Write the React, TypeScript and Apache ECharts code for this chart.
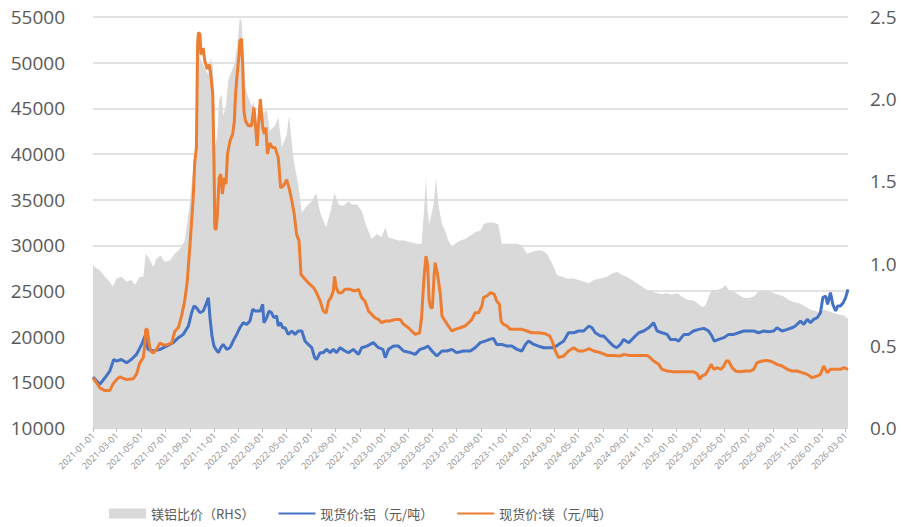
import React, { useEffect, useRef } from 'react';
import * as echarts from 'echarts';

const tickLabels = [
  '2021-01-01', '2021-03-01', '2021-05-01', '2021-07-01', '2021-09-01', '2021-11-01',
  '2022-01-01', '2022-03-01', '2022-05-01', '2022-07-01', '2022-09-01', '2022-11-01',
  '2023-01-01', '2023-03-01', '2023-05-01', '2023-07-01', '2023-09-01', '2023-11-01',
  '2024-01-01', '2024-03-01', '2024-05-01', '2024-07-01', '2024-09-01', '2024-11-01',
  '2025-01-01', '2025-03-01', '2025-05-01', '2025-07-01', '2025-09-01', '2025-11-01',
  '2026-01-01', '2026-03-01',
];
const lastDate = '2026-03-07';

const leftTicks = [10000, 15000, 20000, 25000, 30000, 35000, 40000, 45000, 50000, 55000];
const rightTicks = [0, 0.5, 1.0, 1.5, 2.0, 2.5];

const seriesNames = ['镁铝比价（RHS）', '现货价:铝（元/吨）', '现货价:镁（元/吨）'];

const ratioDates = [
  '2021-01-01', '2021-01-10', '2021-01-18', '2021-01-31', '2021-02-08', '2021-02-20', '2021-03-01', '2021-03-13',
  '2021-03-26', '2021-04-07', '2021-04-16', '2021-04-28', '2021-05-07', '2021-05-13', '2021-05-22', '2021-06-01',
  '2021-06-09', '2021-06-19', '2021-06-30', '2021-07-13', '2021-07-25', '2021-08-07', '2021-08-19', '2021-08-28',
  '2021-09-02', '2021-09-09', '2021-09-16', '2021-09-22', '2021-09-30', '2021-10-08', '2021-10-17', '2021-10-23',
  '2021-10-28', '2021-10-31', '2021-11-02', '2021-11-08', '2021-11-13', '2021-11-19', '2021-11-23', '2021-11-30',
  '2021-12-06', '2021-12-14', '2021-12-22', '2021-12-28', '2022-01-04', '2022-01-08', '2022-01-12', '2022-01-18',
  '2022-01-25', '2022-02-02', '2022-02-08', '2022-02-16', '2022-02-24', '2022-03-04', '2022-03-12', '2022-03-20',
  '2022-04-02', '2022-04-10', '2022-04-19', '2022-05-01', '2022-05-07', '2022-05-18', '2022-05-30', '2022-06-08',
  '2022-06-20', '2022-07-03', '2022-07-14', '2022-07-24', '2022-08-08', '2022-08-20', '2022-08-29', '2022-09-08',
  '2022-09-20', '2022-10-03', '2022-10-11', '2022-10-24', '2022-11-05', '2022-11-18', '2022-11-30', '2022-12-13',
  '2022-12-25', '2023-01-03', '2023-01-11', '2023-01-24', '2023-02-05', '2023-02-18', '2023-03-07', '2023-03-23',
  '2023-04-04', '2023-04-10', '2023-04-15', '2023-04-19', '2023-04-23', '2023-04-27', '2023-05-04', '2023-05-10',
  '2023-05-16', '2023-05-25', '2023-06-02', '2023-06-10', '2023-06-19', '2023-06-27', '2023-07-10', '2023-07-22',
  '2023-08-04', '2023-08-16', '2023-08-29', '2023-09-06', '2023-09-18', '2023-10-01', '2023-10-13', '2023-10-22',
  '2023-11-04', '2023-11-16', '2023-11-29', '2023-12-11', '2023-12-24', '2024-01-05', '2024-01-18', '2024-01-30',
  '2024-02-12', '2024-02-25', '2024-03-08', '2024-03-21', '2024-04-02', '2024-04-19', '2024-05-01', '2024-05-14',
  '2024-05-27', '2024-06-08', '2024-06-25', '2024-07-11', '2024-07-24', '2024-08-05', '2024-08-18', '2024-08-30',
  '2024-09-12', '2024-09-24', '2024-10-07', '2024-10-20', '2024-11-01', '2024-11-14', '2024-11-26', '2024-12-09',
  '2024-12-21', '2025-01-03', '2025-01-15', '2025-01-28', '2025-02-13', '2025-02-26', '2025-03-06', '2025-03-15',
  '2025-03-23', '2025-03-31', '2025-04-13', '2025-04-26', '2025-05-04', '2025-05-12', '2025-05-25', '2025-06-06',
  '2025-06-19', '2025-07-01', '2025-07-14', '2025-07-26', '2025-08-08', '2025-08-20', '2025-09-02', '2025-09-14',
  '2025-09-27', '2025-10-09', '2025-10-22', '2025-11-03', '2025-11-16', '2025-11-29', '2025-12-11', '2025-12-24',
  '2026-01-05', '2026-01-18', '2026-01-31', '2026-02-12', '2026-02-25', '2026-03-07',
];
const ratioValues = [
  0.99, 0.97, 0.96, 0.92, 0.90, 0.86, 0.91, 0.92,
  0.89, 0.90, 0.87, 0.92, 0.92, 1.06, 1.03, 0.98,
  1.03, 1.05, 1.01, 1.02, 1.06, 1.09, 1.14, 1.30,
  1.41, 1.58, 1.73, 2.28, 2.23, 2.19, 2.15, 2.25,
  2.20, 2.05, 1.70, 1.78, 2.00, 2.03, 1.90, 1.96,
  2.12, 2.17, 2.22, 2.32, 2.50, 2.47, 2.30, 2.07,
  2.01, 1.96, 1.98, 1.80, 2.02, 1.91, 1.94, 1.81,
  1.84, 1.89, 1.71, 1.78, 1.90, 1.64, 1.48, 1.31,
  1.35, 1.38, 1.43, 1.31, 1.22, 1.33, 1.43, 1.36,
  1.35, 1.38, 1.36, 1.36, 1.32, 1.22, 1.15, 1.18,
  1.16, 1.22, 1.16, 1.15, 1.14, 1.14, 1.13, 1.12,
  1.12, 1.32, 1.52, 1.32, 1.24, 1.28, 1.36, 1.52,
  1.36, 1.24, 1.20, 1.14, 1.10, 1.12, 1.14, 1.15,
  1.17, 1.19, 1.20, 1.24, 1.25, 1.25, 1.24, 1.12,
  1.12, 1.12, 1.12, 1.11, 1.06, 1.07, 1.08, 1.08,
  1.06, 1.00, 0.93, 0.92, 0.91, 0.91, 0.90, 0.89,
  0.88, 0.90, 0.91, 0.92, 0.94, 0.95, 0.93, 0.92,
  0.90, 0.88, 0.86, 0.84, 0.83, 0.82, 0.815, 0.82,
  0.81, 0.82, 0.80, 0.78, 0.775, 0.755, 0.735, 0.745,
  0.80, 0.84, 0.84, 0.85, 0.87, 0.84, 0.83, 0.81,
  0.79, 0.79, 0.80, 0.83, 0.84, 0.835, 0.82, 0.81,
  0.80, 0.78, 0.765, 0.76, 0.745, 0.725, 0.715, 0.705,
  0.72, 0.71, 0.70, 0.69, 0.685, 0.665,
];

const alDates = [
  '2021-01-01', '2021-01-10', '2021-01-18', '2021-01-31', '2021-02-12', '2021-02-22', '2021-03-01', '2021-03-13',
  '2021-03-26', '2021-04-07', '2021-04-20', '2021-05-03', '2021-05-11', '2021-05-19', '2021-06-01', '2021-06-18',
  '2021-07-04', '2021-07-21', '2021-08-03', '2021-08-15', '2021-08-28', '2021-09-05', '2021-09-11', '2021-09-17',
  '2021-09-26', '2021-10-04', '2021-10-11', '2021-10-17', '2021-10-21', '2021-10-26', '2021-10-31', '2021-11-05',
  '2021-11-11', '2021-11-17', '2021-11-23', '2021-12-02', '2021-12-10', '2021-12-18', '2021-12-27', '2022-01-04',
  '2022-01-12', '2022-01-21', '2022-01-29', '2022-02-05', '2022-02-11', '2022-02-19', '2022-02-24', '2022-03-02',
  '2022-03-05', '2022-03-12', '2022-03-18', '2022-03-24', '2022-03-30', '2022-04-06', '2022-04-10', '2022-04-16',
  '2022-04-21', '2022-04-27', '2022-05-05', '2022-05-14', '2022-05-22', '2022-05-30', '2022-06-08', '2022-06-16',
  '2022-06-24', '2022-07-03', '2022-07-10', '2022-07-15', '2022-07-24', '2022-08-01', '2022-08-09', '2022-08-18',
  '2022-08-26', '2022-09-03', '2022-09-12', '2022-09-24', '2022-10-03', '2022-10-15', '2022-10-28', '2022-11-05',
  '2022-11-18', '2022-12-04', '2022-12-17', '2022-12-28', '2023-01-03', '2023-01-11', '2023-01-24', '2023-02-05',
  '2023-02-18', '2023-03-07', '2023-03-19', '2023-03-31', '2023-04-13', '2023-04-20', '2023-04-30', '2023-05-12',
  '2023-05-25', '2023-06-06', '2023-06-19', '2023-07-01', '2023-07-18', '2023-08-04', '2023-08-16', '2023-08-29',
  '2023-09-10', '2023-09-21', '2023-10-01', '2023-10-09', '2023-10-22', '2023-11-04', '2023-11-16', '2023-11-29',
  '2023-12-11', '2023-12-20', '2023-12-28', '2024-01-10', '2024-01-22', '2024-02-04', '2024-02-16', '2024-02-29',
  '2024-03-12', '2024-03-25', '2024-04-06', '2024-04-19', '2024-05-01', '2024-05-14', '2024-05-27', '2024-06-04',
  '2024-06-12', '2024-06-25', '2024-07-03', '2024-07-15', '2024-07-28', '2024-08-05', '2024-08-14', '2024-08-22',
  '2024-09-04', '2024-09-16', '2024-09-29', '2024-10-11', '2024-10-24', '2024-11-05', '2024-11-14', '2024-11-26',
  '2024-12-09', '2024-12-17', '2024-12-30', '2025-01-07', '2025-01-20', '2025-02-01', '2025-02-13', '2025-02-26',
  '2025-03-11', '2025-03-23', '2025-03-31', '2025-04-06', '2025-04-17', '2025-04-30', '2025-05-12', '2025-05-25',
  '2025-06-06', '2025-06-19', '2025-07-01', '2025-07-14', '2025-07-26', '2025-08-08', '2025-08-20', '2025-09-02',
  '2025-09-10', '2025-09-23', '2025-10-06', '2025-10-18', '2025-10-26', '2025-11-08', '2025-11-16', '2025-11-25',
  '2025-12-03', '2025-12-11', '2025-12-20', '2025-12-28', '2026-01-03', '2026-01-10', '2026-01-15', '2026-01-22',
  '2026-01-28', '2026-02-04', '2026-02-09', '2026-02-16', '2026-02-23', '2026-03-01', '2026-03-07',
];
const alValues = [
  15580, 15140, 14780, 15500, 16240, 17500, 17330, 17500,
  17150, 17500, 18060, 19150, 20070, 18610, 18430, 18610,
  18970, 19340, 19890, 20250, 21170, 22620, 23350, 23170,
  22620, 22810, 23540, 24270, 22080, 20070, 18970, 18610,
  18250, 18790, 19150, 18610, 18790, 19520, 20250, 20980,
  21530, 21350, 21710, 22990, 22810, 22810, 22810, 23540,
  21530, 22080, 22810, 22620, 22080, 22260, 21170, 21530,
  20980, 20980, 20250, 20620, 20250, 20620, 20620, 19520,
  19150, 18790, 17700, 17500, 18250, 18250, 18610, 18250,
  18610, 18250, 18790, 18430, 18250, 18610, 18060, 18790,
  18970, 19340, 18790, 18610, 17700, 18610, 18970, 18970,
  18430, 18250, 18060, 18610, 18790, 18970, 18430, 17880,
  18430, 18430, 18610, 18250, 18430, 18430, 18790, 19340,
  19520, 19700, 19810, 19150, 19150, 18970, 18970, 18610,
  18430, 19150, 19520, 19150, 18970, 18790, 18790, 18790,
  19150, 19520, 20430, 20430, 20620, 20620, 21170, 20980,
  20430, 20070, 20070, 19520, 18970, 18790, 19150, 19700,
  19340, 19890, 20430, 20620, 20980, 21530, 20620, 20430,
  20250, 19700, 19700, 19520, 20250, 20250, 20620, 20800,
  20910, 20620, 20070, 19520, 19700, 19890, 20250, 20250,
  20430, 20620, 20620, 20620, 20430, 20620, 20550, 20620,
  20980, 20620, 20800, 20980, 21170, 21710, 21350, 21890,
  21530, 21890, 22070, 22620, 24270, 24450, 23540, 24820,
  23540, 22810, 23350, 23350, 23720, 24270, 25180,
];

const mgDates = [
  '2021-01-01', '2021-01-10', '2021-01-18', '2021-01-31', '2021-02-12', '2021-02-20', '2021-03-01', '2021-03-09',
  '2021-03-26', '2021-04-12', '2021-04-20', '2021-04-28', '2021-05-07', '2021-05-11', '2021-05-13', '2021-05-17',
  '2021-05-22', '2021-05-26', '2021-06-01', '2021-06-09', '2021-06-18', '2021-06-26', '2021-07-04', '2021-07-17',
  '2021-07-25', '2021-08-03', '2021-08-11', '2021-08-19', '2021-08-25', '2021-09-01', '2021-09-09', '2021-09-13',
  '2021-09-17', '2021-09-20', '2021-09-22', '2021-09-26', '2021-09-28', '2021-10-04', '2021-10-08', '2021-10-14',
  '2021-10-19', '2021-10-23', '2021-10-28', '2021-10-31', '2021-11-02', '2021-11-05', '2021-11-08', '2021-11-13',
  '2021-11-17', '2021-11-21', '2021-11-26', '2021-11-30', '2021-12-04', '2021-12-10', '2021-12-17', '2021-12-21',
  '2021-12-24', '2021-12-28', '2022-01-02', '2022-01-04', '2022-01-08', '2022-01-11', '2022-01-14', '2022-01-18',
  '2022-01-25', '2022-02-02', '2022-02-08', '2022-02-12', '2022-02-16', '2022-02-20', '2022-02-24', '2022-03-02',
  '2022-03-06', '2022-03-10', '2022-03-14', '2022-03-20', '2022-03-26', '2022-04-02', '2022-04-10', '2022-04-16',
  '2022-04-23', '2022-05-01', '2022-05-07', '2022-05-14', '2022-05-20', '2022-05-26', '2022-06-01', '2022-06-06',
  '2022-06-12', '2022-06-20', '2022-06-29', '2022-07-07', '2022-07-15', '2022-07-24', '2022-08-01', '2022-08-08',
  '2022-08-14', '2022-08-20', '2022-08-26', '2022-08-29', '2022-09-02', '2022-09-08', '2022-09-16', '2022-09-24',
  '2022-10-07', '2022-10-19', '2022-10-28', '2022-11-05', '2022-11-13', '2022-11-22', '2022-11-30', '2022-12-08',
  '2022-12-17', '2022-12-25', '2023-01-03', '2023-01-15', '2023-01-28', '2023-02-09', '2023-02-18', '2023-03-02',
  '2023-03-10', '2023-03-19', '2023-03-30', '2023-04-04', '2023-04-10', '2023-04-15', '2023-04-19', '2023-04-23',
  '2023-04-27', '2023-05-01', '2023-05-05', '2023-05-08', '2023-05-14', '2023-05-21', '2023-05-25', '2023-06-02',
  '2023-06-10', '2023-06-19', '2023-06-27', '2023-07-10', '2023-07-22', '2023-07-31', '2023-08-08', '2023-08-16',
  '2023-08-25', '2023-09-02', '2023-09-06', '2023-09-14', '2023-09-24', '2023-10-03', '2023-10-09', '2023-10-16',
  '2023-10-20', '2023-10-26', '2023-11-04', '2023-11-12', '2023-11-25', '2023-12-11', '2023-12-24', '2024-01-05',
  '2024-01-22', '2024-02-08', '2024-02-19', '2024-02-25', '2024-03-04', '2024-03-12', '2024-03-25', '2024-04-06',
  '2024-04-19', '2024-05-01', '2024-05-14', '2024-05-27', '2024-06-08', '2024-06-25', '2024-07-11', '2024-07-28',
  '2024-08-14', '2024-08-22', '2024-09-04', '2024-09-16', '2024-10-03', '2024-10-20', '2024-10-28', '2024-11-05',
  '2024-11-18', '2024-11-26', '2024-12-09', '2024-12-25', '2025-01-11', '2025-01-28', '2025-02-13', '2025-02-22',
  '2025-03-01', '2025-03-06', '2025-03-15', '2025-03-23', '2025-03-29', '2025-04-05', '2025-04-13', '2025-04-23',
  '2025-04-30', '2025-05-06', '2025-05-12', '2025-05-21', '2025-05-29', '2025-06-10', '2025-06-23', '2025-07-06',
  '2025-07-14', '2025-07-22', '2025-08-04', '2025-08-16', '2025-08-29', '2025-09-10', '2025-09-23', '2025-10-06',
  '2025-10-18', '2025-10-31', '2025-11-12', '2025-11-25', '2025-12-07', '2025-12-20', '2025-12-28', '2026-01-05',
  '2026-01-14', '2026-01-22', '2026-02-04', '2026-02-16', '2026-02-25', '2026-03-07',
];
const mgValues = [
  15500, 14950, 14400, 14100, 14100, 14800, 15300, 15600,
  15300, 15400, 15900, 17100, 17700, 19200, 20800, 20800,
  19100, 18400, 18200, 18600, 19300, 19100, 19100, 19300,
  20600, 21000, 22300, 24000, 26000, 30100, 35200, 39200,
  40700, 52000, 53300, 53100, 50900, 51600, 50200, 49300,
  49800, 48700, 46500, 39200, 31900, 31700, 33000, 37400,
  37800, 35600, 37400, 36700, 40000, 41400, 42200, 43600,
  46500, 48700, 50900, 52400, 52600, 49800, 44700, 43600,
  43100, 43100, 45100, 43200, 40900, 43600, 46000, 42900,
  42200, 42900, 40000, 41200, 40700, 40700, 39600, 36300,
  36500, 37200, 36300, 34900, 33400, 31200, 30500, 26800,
  26500, 26100, 25700, 25400, 24800, 23900, 22800, 22600,
  23900, 24300, 25000, 26600, 25400, 24800, 24800, 25200,
  25180, 25000, 25180, 24270, 23900, 22800, 22440, 22070,
  21890, 21530, 21710, 21710, 21890, 21890, 21350, 20980,
  20620, 20250, 20430, 22070, 26460, 28830, 27920, 23900,
  23170, 23170, 26460, 28100, 26820, 24630, 22260, 21710,
  21170, 20620, 20800, 20980, 21170, 21530, 21890, 22620,
  22620, 23350, 24270, 24450, 24820, 24630, 23900, 23540,
  21710, 21350, 21170, 20800, 20800, 20800, 20620, 20430,
  20430, 20320, 20070, 19520, 18430, 17700, 17880, 18430,
  18790, 18430, 18430, 18690, 18430, 18250, 17950, 17950,
  17880, 18060, 17950, 17950, 17950, 17950, 17700, 17330,
  16970, 16420, 16240, 16160, 16160, 16160, 16160, 15950,
  15330, 15690, 15870, 16420, 16970, 16420, 16600, 16420,
  16790, 17330, 17330, 16600, 16240, 16160, 16240, 16240,
  16420, 17150, 17330, 17400, 17260, 16970, 16790, 16420,
  16240, 16240, 16060, 15870, 15510, 15690, 15870, 16790,
  16060, 16420, 16420, 16420, 16600, 16420,
];

const pad = (n: number) => (n < 10 ? '0' + n : '' + n);
const fmtDate = (v: number) => {
  const d = new Date(v);
  return `${d.getFullYear()}-${pad(d.getMonth() + 1)}-${pad(d.getDate())}`;
};
const toTs = (s: string) => {
  const [y, m, d] = s.split('-').map(Number);
  return new Date(y, m - 1, d).getTime();
};

export default function App() {
  const ref = useRef<HTMLDivElement>(null);

  useEffect(() => {
    if (!ref.current) return;
    const chart = echarts.init(ref.current, undefined, { renderer: 'svg' });
    const tickValues = tickLabels.map(toTs);
    const zip = (ds: string[], vs: number[]) => ds.map((d, i) => [toTs(d), vs[i]]);

    chart.setOption({
      animation: false,
      backgroundColor: '#ffffff',
      grid: { left: 93, right: 53, top: 17, bottom: 99, containLabel: false },
      legend: {
        left: 104,
        top: 502,
        itemGap: 23,
        itemWidth: 37,
        itemHeight: 10,
        textStyle: { fontSize: 13, color: '#595959', fontFamily: 'Noto Sans CJK SC' },
        data: [
          { name: seriesNames[0], icon: 'rect' },
          { name: seriesNames[1], itemStyle: { opacity: 0 } },
          { name: seriesNames[2], itemStyle: { opacity: 0 } },
        ],
      },
      xAxis: {
        type: 'value',
        min: tickValues[0],
        max: toTs(lastDate),
        scale: true,
        axisLine: { show: true, onZero: false, lineStyle: { color: '#D9D9D9', width: 1 } },
        axisTick: { show: true, customValues: tickValues, length: 4, lineStyle: { color: '#BFBFBF' } },
        axisLabel: {
          customValues: tickValues,
          rotate: 45,
          fontSize: 9,
          color: '#8C8C8C',
          margin: 6,
          hideOverlap: false,
          showMinLabel: true,
          showMaxLabel: true,
          fontFamily: 'Open Sans',
          formatter: (v: number) => fmtDate(v),
        },
        splitLine: { show: false },
      },
      yAxis: [
        {
          type: 'value',
          min: leftTicks[0],
          max: leftTicks[leftTicks.length - 1],
          interval: leftTicks[1] - leftTicks[0],
          axisLine: { show: false },
          axisTick: { show: false },
          axisLabel: {
            fontSize: 19,
            color: '#595959',
            margin: 28,
            fontFamily: 'Open Sans',
            formatter: (v: number) => String(v),
          },
          splitLine: { show: true, lineStyle: { color: '#D9D9D9', width: 1.5 } },
        },
        {
          type: 'value',
          min: rightTicks[0],
          max: rightTicks[rightTicks.length - 1],
          interval: rightTicks[1] - rightTicks[0],
          axisLine: { show: false },
          axisTick: { show: false },
          axisLabel: {
            fontSize: 19,
            color: '#595959',
            margin: 22,
            fontFamily: 'Open Sans',
            formatter: (v: number) => v.toFixed(1),
          },
          splitLine: { show: false },
        },
      ],
      series: [
        {
          name: seriesNames[0],
          type: 'line',
          yAxisIndex: 1,
          data: zip(ratioDates, ratioValues),
          symbol: 'none',
          lineStyle: { width: 0 },
          itemStyle: { color: '#D9D9D9' },
          areaStyle: { color: '#D9D9D9', opacity: 1 },
        },
        {
          name: seriesNames[1],
          type: 'line',
          data: zip(alDates, alValues),
          symbol: 'none',
          lineStyle: { width: 3, color: '#4472C4' },
          itemStyle: { color: '#4472C4' },
        },
        {
          name: seriesNames[2],
          type: 'line',
          data: zip(mgDates, mgValues),
          symbol: 'none',
          lineStyle: { width: 3, color: '#ED7D31' },
          itemStyle: { color: '#ED7D31' },
        },
      ],
    });

    return () => chart.dispose();
  }, []);

  return (
    <div
      ref={ref}
      style={{ position: 'fixed', left: 0, top: 0, width: 901, height: 527, background: '#fff' }}
    />
  );
}
